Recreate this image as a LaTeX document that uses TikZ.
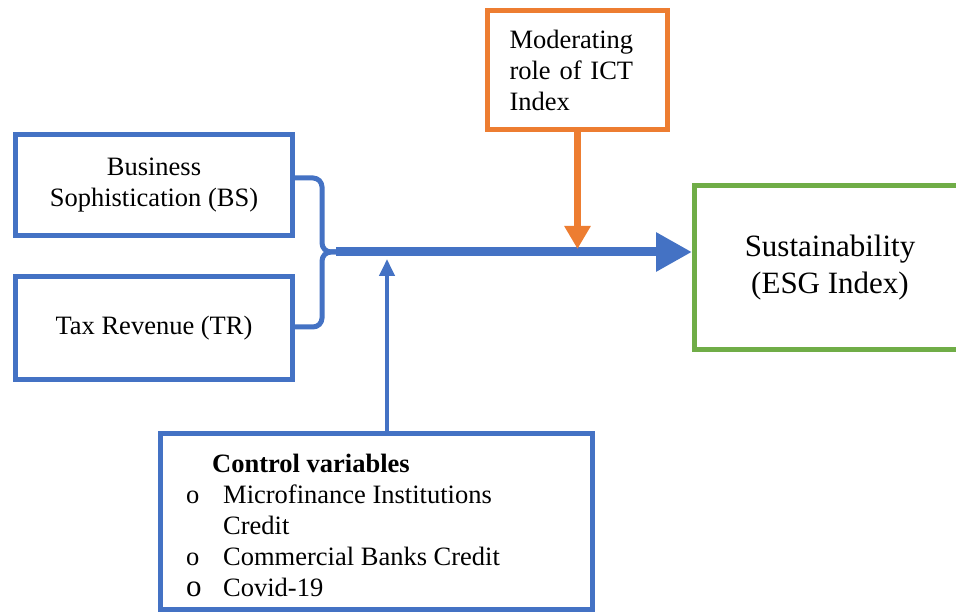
\documentclass[tikz,border=0pt]{standalone}
\usepackage{fontspec}
\setmainfont{Liberation Serif}
\usetikzlibrary{arrows.meta}
\definecolor{cblue}{HTML}{4472C4}
\definecolor{corange}{HTML}{ED7D31}
\definecolor{cgreen}{HTML}{70AD47}
\begin{document}
\begin{tikzpicture}[x=1pt,y=-1pt]
\tikzset{
  box/.style={draw, line width=5pt, inner sep=0pt, align=center, font=\fontsize{26.5}{30.5}\selectfont},
  txt/.style={font=\fontsize{26.5}{31}\selectfont},
}
\useasboundingbox (0,0) rectangle (956,612);
\clip (0,0) rectangle (956,612);
\fill[white] (0,0) rectangle (956,612);
\node[box, draw=cblue, minimum width=277pt, minimum height=101pt] (bs) at (154,185) {Business\\Sophistication (BS)};
\node[box, draw=cblue, minimum width=277pt, minimum height=103pt] (tr) at (154,328) {Tax Revenue (TR)};
\node[box, draw=corange, minimum width=180pt, minimum height=119pt, text width=136pt, align=left, txt] (mod) at (577.5,70) {Moderating\\role of ICT\\Index};
\node[box, draw=cgreen, minimum width=271pt, minimum height=164pt, font=\fontsize{31}{37}\selectfont] (sus) at (830,267.5) {Sustainability\\(ESG Index)};
\node[box, draw=cblue, minimum width=432pt, minimum height=176pt] (ctrl) at (376.5,521.5) {};
\node[anchor=north west, inner sep=0pt, align=left, txt] (ctrltext) at (186,454) {%
\hspace*{26pt}\textbf{Control variables}\\
\makebox[37pt][l]{o}Microfinance Institutions\\
\hspace*{37pt}Credit\\
\makebox[37pt][l]{o}Commercial Banks Credit\\
\makebox[37pt][l]{\fontsize{31}{31}\selectfont o}Covid-19};
% brace
\coordinate (tip) at (336,252);
\draw[cblue, line width=5pt, rounded corners=9pt] ([yshift=7pt]bs.east) -- (322,178) -- (322,252) -- (tip);
\draw[cblue, line width=5pt, rounded corners=9pt] ([yshift=1pt]tr.east) -- (322,327) -- (322,252) -- (tip);
% main arrow
\draw[cblue, line width=9pt, -{Triangle[length=36pt,width=37pt]}] (tip) -- (tip -| sus.west);
% moderating arrow
\draw[corange, line width=7pt, -{Triangle[length=23pt,width=25pt]}] (mod.south) -- ++(0,117);
% control arrow
\draw[cblue, line width=4pt, -{Triangle[length=17pt,width=15pt]}] ([xshift=10.5pt]ctrl.north) -- ++(0,-172);
\end{tikzpicture}
\end{document}
